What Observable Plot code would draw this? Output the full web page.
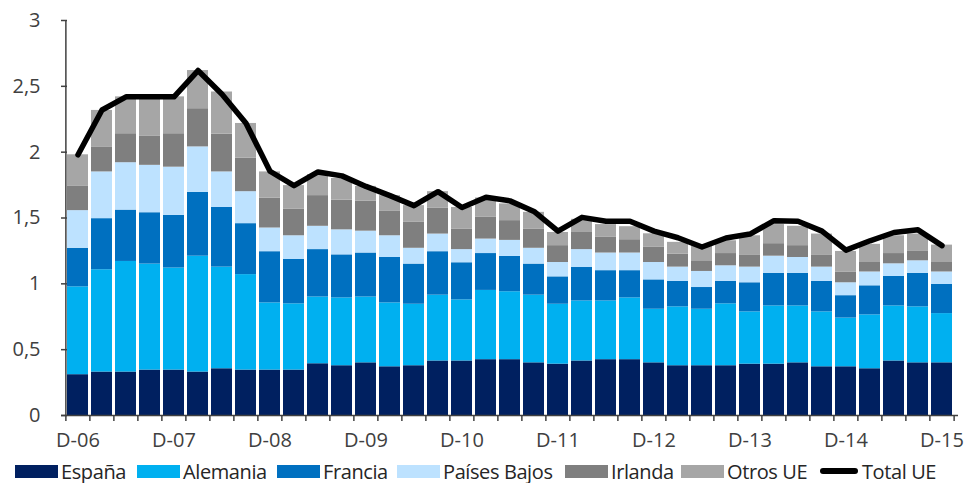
<!DOCTYPE html>
<html>
<head>
<meta charset="utf-8">
<script src="https://cdn.jsdelivr.net/npm/d3@7"></script>
<script src="https://cdn.jsdelivr.net/npm/@observablehq/plot@0.6"></script>
<style>
  html, body { margin: 0; padding: 0; background: #fff; }
  body { width: 971px; height: 483px; overflow: hidden; font-family: "Open Sans", sans-serif; }
  #legend { position: relative; height: 28px; font-size: 20px; color: #262626; letter-spacing: -0.4px; }
  .item { position: absolute; top: 2px; height: 28px; display: flex; align-items: center; white-space: nowrap; }
  .sw { width: 43px; height: 13px; margin-right: 3px; }
  .ln { width: 38px; height: 6px; border-radius: 3px; background: #000; margin: 0 4px 0 2px; }
</style>
</head>
<body>
<div id="chart"></div>
<div id="legend"></div>
<script>
const quarters = [
  "D-06","M-07","J-07","S-07","D-07","M-08","J-08","S-08","D-08","M-09","J-09","S-09","D-09",
  "M-10","J-10","S-10","D-10","M-11","J-11","S-11","D-11","M-12","J-12","S-12","D-12",
  "M-13","J-13","S-13","D-13","M-14","J-14","S-14","D-14","M-15","J-15","S-15","D-15"
];
const seriesNames = ["España", "Alemania", "Francia", "Países Bajos", "Irlanda", "Otros UE"];
const colors = ["#002060", "#00B0F0", "#0070C0", "#BDE2FF", "#7F7F7F", "#A6A6A6"];

const espana = [.31,.33,.33,.345,.345,.33,.355,.345,.345,.345,.393,.378,.40,.37,.378,.414,.414,.424,.424,.40,.39,.414,.424,.424,.40,.378,.378,.378,.39,.39,.40,.37,.37,.355,.414,.40,.40];
const alemania = [.667,.777,.84,.805,.775,.88,.772,.725,.51,.503,.507,.515,.50,.485,.467,.50,.464,.526,.516,.514,.455,.456,.446,.469,.407,.447,.429,.47,.397,.442,.432,.417,.37,.409,.418,.425,.374];
const francia = [.293,.388,.39,.39,.40,.485,.453,.387,.389,.337,.36,.327,.334,.345,.305,.33,.282,.28,.268,.236,.208,.254,.23,.207,.223,.193,.165,.17,.221,.248,.248,.231,.17,.221,.224,.255,.221];
const paisesBajos = [.286,.355,.36,.36,.366,.345,.27,.243,.18,.18,.177,.19,.166,.165,.12,.134,.10,.11,.122,.12,.109,.136,.134,.134,.132,.109,.122,.119,.119,.13,.12,.109,.098,.105,.096,.095,.095];
const irlanda = [.184,.19,.22,.22,.254,.29,.287,.254,.226,.201,.233,.225,.227,.185,.20,.198,.154,.165,.15,.144,.128,.13,.119,.101,.118,.099,.081,.093,.093,.095,.09,.093,.082,.072,.078,.071,.072];
const otrosUE = [.24,.277,.28,.30,.28,.29,.32,.264,.20,.18,.16,.165,.113,.12,.124,.124,.166,.147,.127,.129,.10,.10,.097,.099,.10,.089,.115,.097,.145,.145,.147,.158,.156,.138,.135,.132,.132];
const totalUE = [1.98,2.32,2.42,2.42,2.42,2.62,2.44,2.22,1.855,1.746,1.85,1.82,1.74,1.67,1.594,1.70,1.58,1.657,1.63,1.55,1.40,1.505,1.475,1.475,1.40,1.35,1.28,1.348,1.378,1.48,1.475,1.40,1.256,1.327,1.39,1.41,1.29];
const yTicks = [0, 0.5, 1, 1.5, 2, 2.5, 3];

const seriesValues = [espana, alemania, francia, paisesBajos, irlanda, otrosUE];
const stacked = [];
quarters.forEach((q, i) => {
  seriesNames.forEach((s, j) => stacked.push({q, serie: s, value: seriesValues[j][i]}));
});
const totals = quarters.map((q, i) => ({q, value: totalUE[i]}));

const W = 971, H = 455, mL = 61, mR = 13, mT = 20, mB = 40;
const step = (W - mL - mR) / quarters.length;
const axisColor = "#404040";

const chart = Plot.plot({
  width: W,
  height: H,
  marginLeft: mL,
  marginRight: mR,
  marginTop: mT,
  marginBottom: mB,
  style: { fontFamily: "Open Sans, sans-serif", fontSize: "20px", color: "#404040", background: "#fff" },
  x: { domain: quarters, paddingInner: 0.14, paddingOuter: 0.07, axis: null, label: null },
  y: { domain: [0, 3], axis: null, label: null },
  color: { domain: seriesNames, range: colors },
  marks: [
    Plot.barY(stacked, { x: "q", y: "value", fill: "serie", order: seriesNames }),
    Plot.line(totals, { x: "q", y: "value", stroke: "#000", strokeWidth: 5.5, strokeLinejoin: "round", strokeLinecap: "round" }),
    Plot.ruleY([0], { stroke: axisColor, strokeWidth: 1.5 }),
    Plot.ruleX([quarters[0]], { y1: 0, y2: 3, dx: -step / 2, stroke: axisColor, strokeWidth: 1.5 }),
    Plot.axisY({ ticks: yTicks, label: null, tickSize: -6, tickPadding: 27, stroke: axisColor, strokeWidth: 1.5,
      tickFormat: d => String(d).replace(".", ","), fill: "#404040", fontSize: 20 }),
    Plot.axisX({ ticks: quarters, label: null, tickSize: 6, tickFormat: () => "", dx: -step / 2, stroke: axisColor, strokeWidth: 1.5 }),
    Plot.axisX({ ticks: [quarters[quarters.length - 1]], label: null, tickSize: 6, tickFormat: () => "", dx: step / 2, stroke: axisColor, strokeWidth: 1.5 }),
    Plot.axisX({ ticks: quarters.filter(q => q.startsWith("D-")), label: null, tickSize: 0, tickPadding: 17, fill: "#404040", fontSize: 20 })
  ]
});
document.getElementById("chart").appendChild(chart);

const legendX = [15, 137, 277, 397, 565, 681, 818];
const legend = document.getElementById("legend");
seriesNames.forEach((s, j) => {
  const it = document.createElement("div");
  it.className = "item";
  it.style.left = legendX[j] + "px";
  it.innerHTML = `<span class="sw" style="background:${colors[j]}"></span><span>${s}</span>`;
  legend.appendChild(it);
});
const lt = document.createElement("div");
lt.className = "item";
lt.style.left = legendX[6] + "px";
lt.innerHTML = `<span class="ln"></span><span>Total UE</span>`;
legend.appendChild(lt);
</script>
</body>
</html>
